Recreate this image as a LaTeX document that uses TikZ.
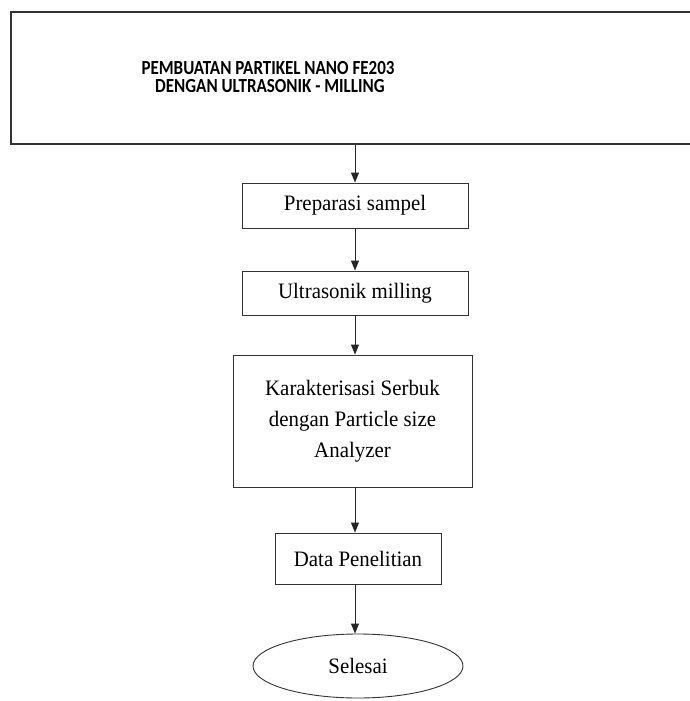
\documentclass[tikz,border=0pt]{standalone}
\usepackage{fontspec}
\setmainfont{Liberation Serif}[FakeStretch=0.95]
\newfontfamily\titlefont{Carlito}[FakeStretch=0.85]
\usetikzlibrary{arrows.meta,positioning,shapes.geometric}

\begin{document}
\begin{tikzpicture}[x=1pt,y=-1pt,
  box/.style={draw=black!80, line width=0.9pt, inner sep=0pt, align=center,
    font=\fontsize{22}{31}\selectfont},
  flow/.style={draw=black!85, line width=0.9pt, -{Triangle[width=8pt,length=10pt]}}]
\useasboundingbox (0,0) rectangle (689,701);
% title frame, runs past the right edge
\node[box, line width=1.3pt, minimum width=689pt, minimum height=132pt] (head) at (355.5,78) {};
\node[font=\titlefont\bfseries\fontsize{20}{18.5}\selectfont, align=center] (title) at (268,77)
  {PEMBUATAN PARTIKEL NANO FE203\\ \ DENGAN ULTRASONIK - MILLING};
% steps
\node[box, minimum width=226pt, minimum height=45pt] (prep) at (355,205.5) {Preparasi sampel};
\node[box, minimum width=226pt, minimum height=44pt] (mill) at (355,293) {Ultrasonik milling};
\node[box, minimum width=239pt, minimum height=132pt] (karak) at (352.5,421)
  {Karakterisasi Serbuk\\dengan Particle size\\Analyzer};
\node[box, minimum width=166pt, minimum height=51pt] (data) at (358,558.5) {Data Penelitian};
\node[box, ellipse, minimum width=210pt, minimum height=64pt] (end) at (358,666) {Selesai};
% arrows
\draw[flow] (head.south -| prep.north) -- (prep.north);
\draw[flow] (prep.south) -- (mill.north);
\draw[flow] (mill.south) -- (mill.south |- karak.north);
\draw[flow] (karak.south -| mill.south) -- (mill.south |- data.north);
\draw[flow] (data.south -| mill.south) -- (mill.south |- end.north);
\end{tikzpicture}
\end{document}
